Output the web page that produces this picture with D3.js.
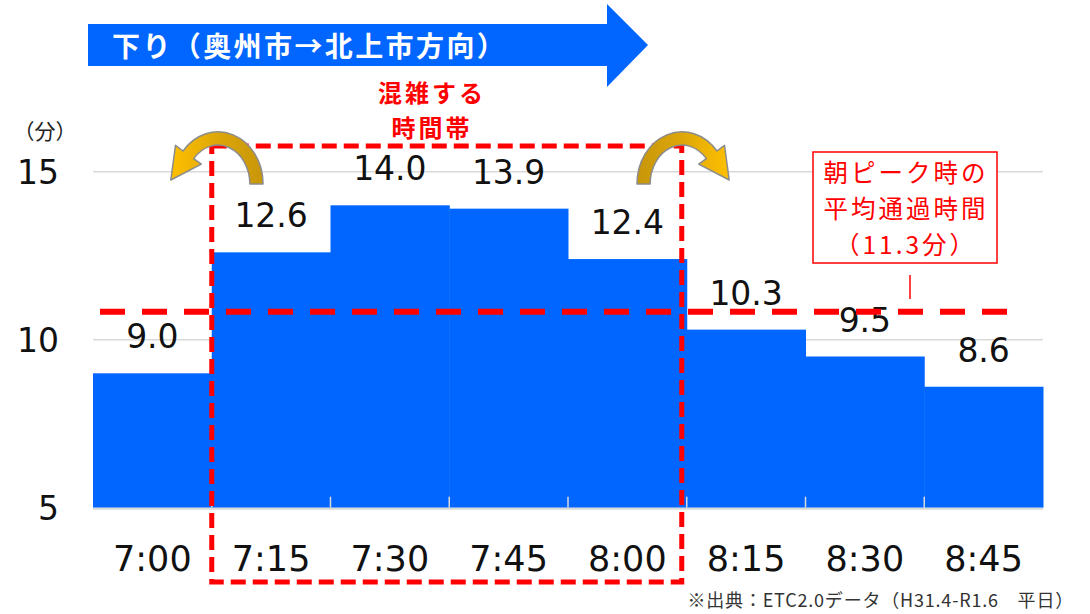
<!DOCTYPE html>
<html>
<head>
<meta charset="utf-8">
<script src="https://cdn.jsdelivr.net/npm/d3@7"></script>
<style>
  body { margin: 0; background: #fff; }
  svg { display: block; }
  .num { font-family: "DejaVu Sans", Verdana, sans-serif; }
  .jp { font-family: "Noto Sans CJK JP", "Noto Sans", sans-serif; }
</style>
</head>
<body>
<div id="chart"></div>
<script>
// data
var times = ["7:00", "7:15", "7:30", "7:45", "8:00", "8:15", "8:30", "8:45"];
var minutes = [9.0, 12.6, 14.0, 13.9, 12.4, 10.3, 9.5, 8.6];
var yTicks = [5, 10, 15];
var peakTimes = ["7:15", "8:00"];   // congested period (first and last bar)
var avgLineLevel = 10.83;           // where the dashed line sits in the picture
var avgLabel = ["朝ピーク時の", "平均通過時間", "（11.3分）"];
var title = "下り（奥州市→北上市方向）";
var peakLabel = ["混雑する", "時間帯"];
var note = "※出典：ETC2.0データ（H31.4-R1.6　平日）";

var W = 1090, H = 614;
var svg = d3.select("#chart").append("svg")
    .attr("width", W)
    .attr("height", H);

var x = d3.scaleBand().domain(times).range([93, 1043]).padding(0);
var y = d3.scaleLinear().domain([5, 15]).range([507.7, 171.7]);
var bw = x.bandwidth();

// gridlines
svg.append("g")
    .selectAll("line")
    .data(yTicks.filter(function (d) { return d > 5; }))
    .enter().append("line")
    .attr("x1", 93).attr("x2", 1043)
    .attr("y1", function (d) { return y(d); })
    .attr("y2", function (d) { return y(d); })
    .attr("stroke", "#d9d9d9")
    .attr("stroke-width", 1.5);

// y labels
svg.append("g")
    .selectAll("text")
    .data(yTicks)
    .enter().append("text")
    .attr("class", "num")
    .attr("x", 59)
    .attr("y", function (d) { return y(d) + 12; })
    .attr("text-anchor", "end")
    .attr("font-size", 33)
    .attr("fill", "#111")
    .text(function (d) { return d; });

svg.append("text")
    .attr("class", "jp")
    .attr("x", 45).attr("y", 139)
    .attr("text-anchor", "middle")
    .attr("font-size", 21)
    .attr("fill", "#222")
    .text("（分）");

// bars
svg.append("g")
    .selectAll("rect")
    .data(minutes)
    .enter().append("rect")
    .attr("x", function (d, i) { return x(times[i]); })
    .attr("y", function (d) { return y(d); })
    .attr("width", bw + 0.5)
    .attr("height", function (d) { return y(5) - y(d); })
    .attr("fill", "#0066ff");

// axis line + small ticks between bars
svg.append("line")
    .attr("x1", 93).attr("x2", 1043)
    .attr("y1", y(5) + 1).attr("y2", y(5) + 1)
    .attr("stroke", "#d9d9d9").attr("stroke-width", 2);

svg.append("g")
    .selectAll("line")
    .data(times.slice(1))
    .enter().append("line")
    .attr("x1", function (d) { return x(d); })
    .attr("x2", function (d) { return x(d); })
    .attr("y1", y(5)).attr("y2", y(5) - 11)
    .attr("stroke", "#d9d9d9").attr("stroke-width", 1.5);

// value labels
svg.append("g")
    .selectAll("text")
    .data(minutes)
    .enter().append("text")
    .attr("class", "num")
    .attr("x", function (d, i) { return x(times[i]) + bw / 2; })
    .attr("y", function (d) { return y(d) - 25; })
    .attr("text-anchor", "middle")
    .attr("font-size", 33)
    .attr("fill", "#111")
    .text(function (d) { return d.toFixed(1); });

// x labels
svg.append("g")
    .selectAll("text")
    .data(times)
    .enter().append("text")
    .attr("class", "num")
    .attr("x", function (d) { return x(d) + bw / 2; })
    .attr("y", 571)
    .attr("text-anchor", "middle")
    .attr("font-size", 35)
    .attr("fill", "#111")
    .text(function (d) { return d; });

// average dashed line
svg.append("line")
    .attr("x1", 100).attr("x2", 1008)
    .attr("y1", y(avgLineLevel)).attr("y2", y(avgLineLevel))
    .attr("stroke", "#ff0000")
    .attr("stroke-width", 6)
    .attr("stroke-dasharray", "25,17");

// congested period box
var bx0 = x(peakTimes[0]), bx1 = x(peakTimes[1]) + bw - 5;
svg.append("rect")
    .attr("x", bx0).attr("y", 146)
    .attr("width", bx1 - bx0).attr("height", 582 - 146)
    .attr("fill", "none")
    .attr("stroke", "#ff0000")
    .attr("stroke-width", 5)
    .attr("stroke-dasharray", "15,7");

svg.append("g")
    .selectAll("text")
    .data(peakLabel)
    .enter().append("text")
    .attr("class", "jp")
    .attr("x", 432)
    .attr("y", function (d, i) { return 102 + i * 35; })
    .attr("text-anchor", "middle")
    .attr("font-size", 24)
    .attr("letter-spacing", 3)
    .attr("font-weight", "bold")
    .attr("fill", "#ff0000")
    .text(function (d) { return d; });

// curved gold arrows (right one mirrored)
var defs = svg.append("defs");
var grad = defs.append("linearGradient")
    .attr("id", "gold")
    .attr("gradientUnits", "userSpaceOnUse")
    .attr("x1", 262).attr("y1", 0).attr("x2", 170).attr("y2", 0);
grad.append("stop").attr("offset", "0%").attr("stop-color", "#c8960a");
grad.append("stop").attr("offset", "45%").attr("stop-color", "#dca609");
grad.append("stop").attr("offset", "100%").attr("stop-color", "#ffc000");

function curvedArrow(g) {
    var shape = "M263,184 A45,52 0 0 0 183.1,151 " +
        "L175.5,145.4 L170.8,180 L201.3,164.2 L193.7,158.6 " +
        "A32,39 0 0 1 249.9,184 Z";
    g.append("path")
        .attr("d", shape)
        .attr("fill", "url(#gold)")
        .attr("stroke", "#8c8c8c")
        .attr("stroke-width", 1.5)
        .attr("stroke-linejoin", "round");
}
curvedArrow(svg.append("g"));
curvedArrow(svg.append("g").attr("transform", "translate(900,0) scale(-1,1)"));

// average callout
svg.append("rect")
    .attr("x", 813).attr("y", 152)
    .attr("width", 184).attr("height", 111)
    .attr("fill", "#fff")
    .attr("stroke", "#ff0000")
    .attr("stroke-width", 1.5);

svg.append("g")
    .selectAll("text")
    .data(avgLabel)
    .enter().append("text")
    .attr("class", "jp")
    .attr("x", 906)
    .attr("y", function (d, i) { return 182 + i * 36; })
    .attr("text-anchor", "middle")
    .attr("font-size", 24.5)
    .attr("letter-spacing", 3)
    .attr("fill", "#ff0000")
    .text(function (d) { return d; });

svg.append("line")
    .attr("x1", 910).attr("x2", 910)
    .attr("y1", 275).attr("y2", 299)
    .attr("stroke", "#ff0000").attr("stroke-width", 1.5);

// direction arrow banner
svg.append("path")
    .attr("d", "M88,24 L607,24 L607,4 L648,45 L607,87 L607,66 L88,66 Z")
    .attr("fill", "#0066ff");

svg.append("text")
    .attr("class", "jp")
    .attr("x", 112).attr("y", 57)
    .attr("font-size", 28)
    .attr("letter-spacing", 2.4)
    .attr("font-weight", "bold")
    .attr("fill", "#fff")
    .text(title);

// footnote
svg.append("text")
    .attr("class", "jp")
    .attr("x", 1074).attr("y", 607)
    .attr("text-anchor", "end")
    .attr("font-size", 18)
    .attr("letter-spacing", 0.8)
    .attr("fill", "#333")
    .text(note);
</script>
</body>
</html>
